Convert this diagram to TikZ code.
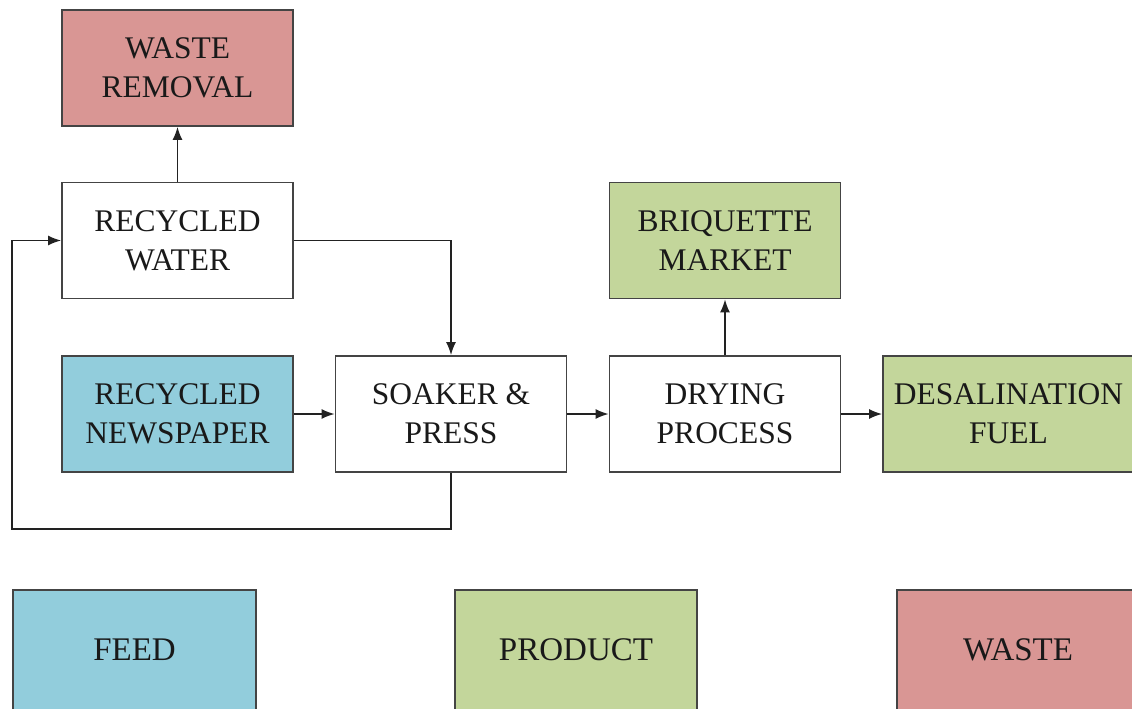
\documentclass[tikz,border=0pt]{standalone}
\usepackage{fontspec}
\setmainfont{Liberation Serif}
\usetikzlibrary{arrows.meta}
\definecolor{feedc}{HTML}{92CDDC}
\definecolor{prodc}{HTML}{C3D69B}
\definecolor{wastec}{HTML}{D99694}
\definecolor{linec}{HTML}{222222}
\definecolor{boxc}{HTML}{444444}
\tikzset{
  box/.style={draw=boxc, line width=1.8pt, minimum width=231pt, minimum height=116pt,
    align=center, inner sep=0pt, text=black!90, font=\fontsize{31.5}{39}\selectfont},
  legbox/.style={box, minimum width=243pt, minimum height=120pt, font=\fontsize{33}{39}\selectfont},
  conn/.style={draw=linec, line width=1.6pt, -{Latex[length=13pt,width=10pt]}},
}
\begin{document}
\begin{tikzpicture}[x=1pt,y=-1pt]
\clip (0,0) rectangle (1132,709);
\fill[white] (0,0) rectangle (1132,709);
\node[box, fill=wastec] (wr) at (177.5,68) {WASTE\\REMOVAL};
\node[box, fill=white] (rw) at (177.5,240.5) {RECYCLED\\WATER};
\node[box, fill=prodc] (bm) at (725,240.5) {BRIQUETTE\\MARKET};
\node[box, fill=feedc] (rn) at (177.5,414) {RECYCLED\\NEWSPAPER};
\node[box, fill=white] (sp) at (451,414) {SOAKER \&\\PRESS};
\node[box, fill=white] (dp) at (725,414) {DRYING\\PROCESS};
\node[box, fill=prodc, minimum width=251pt] (df) at (1008.5,414) {DESALINATION\\FUEL};
\node[legbox, fill=feedc] (feed) at (134.5,650) {FEED};
\node[legbox, fill=prodc, minimum width=242pt] (prod) at (576,650) {PRODUCT};
\node[legbox, fill=wastec, minimum width=242pt] (waste) at (1018,650) {WASTE};
\coordinate (c1) at (451,529);
\coordinate (c2) at (12,529);
\draw[conn] (rw.north) -- (wr.south);
\draw[conn] (rw.east) -| (sp.north);
\draw[conn] (sp.south) -- (c1) -- (c2) |- (rw.west);
\draw[conn] (rn.east) -- (sp.west);
\draw[conn] (sp.east) -- (dp.west);
\draw[conn] (dp.east) -- (df.west);
\draw[conn] (dp.north) -- (bm.south);
\end{tikzpicture}
\end{document}
